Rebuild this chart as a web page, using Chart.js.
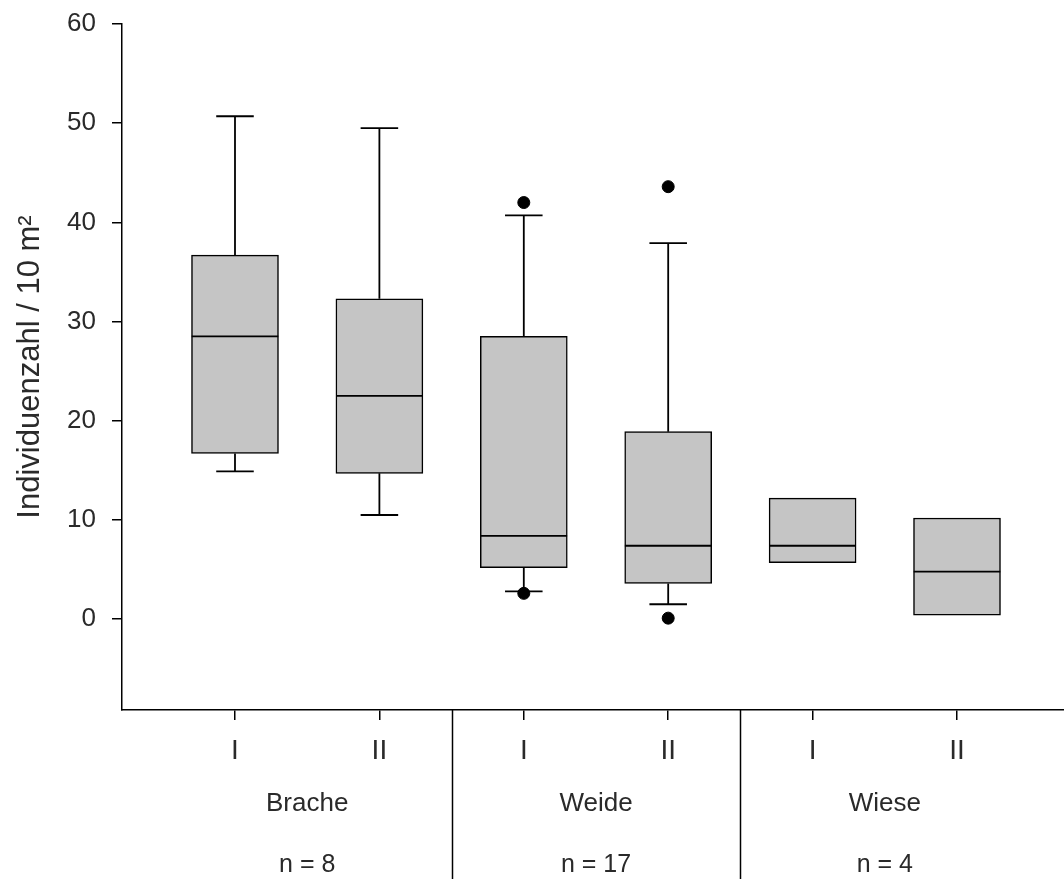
<!DOCTYPE html>
<html>
<head>
<meta charset="utf-8">
<script src="https://cdn.jsdelivr.net/npm/chart.js@4/dist/chart.umd.min.js"></script>
<style>
  html, body { margin: 0; padding: 0; background: #fff; overflow: hidden; }
  #wrap { width: 1064px; height: 879px; }
  canvas { display: block; }
</style>
</head>
<body>
<div id="wrap"><canvas id="chartCanvas"></canvas></div>
<script>
// box plot values
var categories = ['I', 'II', 'I', 'II', 'I', 'II']
var groups = ['Brache', 'Weide', 'Wiese']
var groupN = ['n = 8', 'n = 17', 'n = 4']
var whiskerHigh = [50.7, 49.5, 40.7, 37.9, null, null]
var q3 = [36.7, 32.3, 28.5, 18.9, 12.2, 10.2]
var median = [28.5, 22.5, 8.4, 7.4, 7.4, 4.8]
var q1 = [16.7, 14.7, 5.2, 3.6, 5.7, 0.4]
var whiskerLow = [14.9, 10.5, 2.8, 1.5, null, null]
var outliers = [[], [], [42.0, 2.6], [43.6, 0.1], [], []]
var yTicks = [0, 10, 20, 30, 40, 50, 60]

var boxHalf = 0.30
var capHalf = 0.13

function segments(list) {
    // list of [x1, y1, x2, y2], separated by gaps
    var pts = []
    list.forEach(function (s) {
        pts.push({ x: s[0], y: s[1] }, { x: s[2], y: s[3] }, { x: s[2], y: null })
    })
    return pts
}

var whiskerSegs = [], capSegs = [], medianSegs = [], outlierPts = []
categories.forEach(function (c, i) {
    if (whiskerHigh[i] != null) {
        whiskerSegs.push([i, q3[i], i, whiskerHigh[i]])
        capSegs.push([i - capHalf, whiskerHigh[i], i + capHalf, whiskerHigh[i]])
    }
    if (whiskerLow[i] != null) {
        whiskerSegs.push([i, q1[i], i, whiskerLow[i]])
        capSegs.push([i - capHalf, whiskerLow[i], i + capHalf, whiskerLow[i]])
    }
    medianSegs.push([i - boxHalf, median[i], i + boxHalf, median[i]])
    outliers[i].forEach(function (v) { outlierPts.push({ x: i, y: v }) })
})

var textColor = '#2a2a2a'
var fontFamily = '"Liberation Sans", Arial, sans-serif'

var groupPlugin = {
    id: 'groups',
    afterDraw: function (chart) {
        var ctx = chart.ctx
        var xs = chart.scales.x
        var area = chart.chartArea
        ctx.save()
        ctx.strokeStyle = '#000'
        ctx.lineWidth = 1.5
        for (var g = 1; g < groups.length; g++) {
            var px = Math.round(xs.getPixelForValue(g * 2 - 0.5)) + 0.5
            ctx.beginPath()
            ctx.moveTo(px, area.bottom)
            ctx.lineTo(px, chart.height)
            ctx.stroke()
        }
        ctx.fillStyle = textColor
        ctx.textAlign = 'center'
        ctx.textBaseline = 'middle'
        groups.forEach(function (name, g) {
            var cx = xs.getPixelForValue(g * 2 + 0.5)
            ctx.font = '26px ' + fontFamily
            ctx.fillText(name, cx, 804)
            ctx.font = '25px ' + fontFamily
            ctx.fillText(groupN[g], cx, 865)
        })
        ctx.restore()
    }
}

var ctx = document.getElementById('chartCanvas')
new Chart(ctx, {
    data: {
        datasets: [
            {
                type: 'bar',
                data: categories.map(function (c, i) { return { x: i, y: [q1[i], q3[i]] } }),
                backgroundColor: '#c5c5c5',
                borderColor: '#000',
                borderWidth: 1.5,
                borderSkipped: false,
                barThickness: 87,
                order: 3
            },
            {
                type: 'scatter',
                data: segments(whiskerSegs),
                showLine: true,
                spanGaps: false,
                borderColor: '#000',
                borderWidth: 1.8,
                pointRadius: 0,
                order: 4
            },
            {
                type: 'scatter',
                data: segments(capSegs),
                showLine: true,
                spanGaps: false,
                borderColor: '#000',
                borderWidth: 1.8,
                pointRadius: 0,
                order: 2
            },
            {
                type: 'scatter',
                data: segments(medianSegs),
                showLine: true,
                spanGaps: false,
                borderColor: '#000',
                borderWidth: 1.8,
                pointRadius: 0,
                order: 1
            },
            {
                type: 'scatter',
                data: outlierPts,
                backgroundColor: '#000',
                borderColor: '#000',
                pointRadius: 6,
                order: 0
            }
        ]
    },
    options: {
        responsive: true,
        maintainAspectRatio: false,
        animation: false,
        events: [],
        layout: { autoPadding: false, padding: { top: 24, right: 0, left: 0, bottom: 0 } },
        plugins: {
            legend: { display: false },
            tooltip: { enabled: false }
        },
        scales: {
            x: {
                type: 'linear',
                offset: false,
                min: -0.7825,
                max: 5.741,
                afterBuildTicks: function (scale) {
                    scale.ticks = categories.map(function (c, i) { return { value: i } })
                },
                afterFit: function (scale) {
                    scale.height = 169
                    scale.paddingLeft = 0
                    scale.paddingRight = 0
                },
                ticks: {
                    autoSkip: false,
                    maxRotation: 0,
                    color: textColor,
                    padding: 14,
                    font: { family: fontFamily, size: 28 },
                    callback: function (v) { return categories[v] }
                },
                grid: {
                    offset: false,
                    drawOnChartArea: false,
                    drawTicks: true,
                    tickLength: 10,
                    color: '#000',
                    lineWidth: 1.5
                },
                border: { color: '#000', width: 1.5 }
            },
            y: {
                min: -9.16,
                max: 60,
                afterBuildTicks: function (scale) {
                    scale.ticks = yTicks.map(function (v) { return { value: v } })
                },
                afterFit: function (scale) {
                    scale.width = 122
                    scale.paddingTop = 0
                    scale.paddingBottom = 0
                },
                ticks: {
                    color: textColor,
                    padding: 16,
                    font: { family: fontFamily, size: 26 }
                },
                grid: {
                    drawOnChartArea: false,
                    drawTicks: true,
                    tickLength: 10,
                    color: '#000',
                    lineWidth: 1.5
                },
                border: { color: '#000', width: 1.5 },
                title: {
                    display: true,
                    text: 'Individuenzahl / 10 m²',
                    color: textColor,
                    padding: { top: 12, bottom: 0 },
                    font: { family: fontFamily, size: 31 }
                }
            }
        }
    },
    plugins: [groupPlugin]
})
</script>
</body>
</html>
